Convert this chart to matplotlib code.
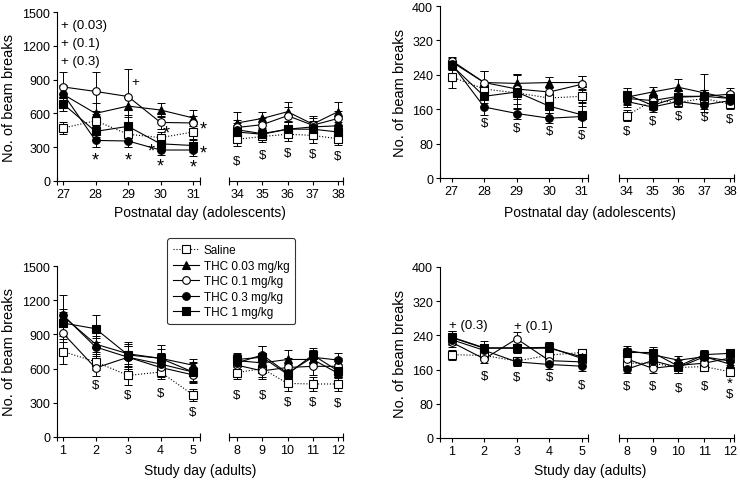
import numpy as np
import matplotlib
matplotlib.use("Agg")
import matplotlib.pyplot as plt

plt.rcParams['font.family'] = ['Liberation Sans', 'DejaVu Sans']

# x values for the two segments of each broken axis
adol_days_a = [27, 28, 29, 30, 31]
adol_days_b = [34, 35, 36, 37, 38]
adult_days_a = [1, 2, 3, 4, 5]
adult_days_b = [8, 9, 10, 11, 12]

groups = ['Saline', 'THC 0.03 mg/kg', 'THC 0.1 mg/kg', 'THC 0.3 mg/kg', 'THC 1 mg/kg']

# rows follow `groups`, columns are the 10 days (5 + 5)
adol_left_mean = [
    [470, 535, 415, 385, 435, 370, 395, 415, 405, 375],
    [770, 600, 665, 630, 560, 515, 555, 615, 505, 615],
    [835, 795, 750, 520, 515, 475, 500, 580, 495, 555],
    [775, 360, 355, 275, 275, 455, 420, 460, 480, 490],
    [685, 440, 485, 330, 315, 435, 415, 460, 460, 435],
]
adol_left_err = [
    [55, 60, 70, 50, 70, 60, 45, 60, 70, 55],
    [70, 90, 80, 60, 70, 100, 60, 90, 70, 90],
    [130, 170, 240, 60, 60, 70, 60, 80, 60, 70],
    [80, 60, 50, 40, 50, 60, 50, 60, 50, 60],
    [60, 50, 80, 60, 60, 60, 50, 70, 60, 60],
]
adol_right_mean = [
    [235, 207, 198, 186, 190, 145, 180, 176, 185, 172],
    [270, 222, 220, 222, 222, 188, 200, 211, 198, 185],
    [273, 222, 207, 200, 218, 185, 180, 190, 190, 195],
    [265, 165, 150, 139, 143, 178, 165, 178, 170, 180],
    [262, 190, 200, 167, 147, 194, 169, 188, 190, 185],
]
adol_right_err = [
    [25, 15, 15, 12, 14, 12, 12, 12, 15, 12],
    [8, 28, 23, 12, 15, 15, 12, 20, 45, 12],
    [8, 28, 35, 12, 20, 15, 12, 15, 15, 15],
    [10, 18, 12, 12, 25, 12, 12, 10, 10, 12],
    [10, 15, 40, 15, 28, 15, 12, 15, 15, 15],
]
adult_left_mean = [
    [750, 660, 540, 570, 370, 565, 600, 470, 465, 465],
    [1060, 815, 730, 690, 630, 670, 650, 680, 680, 560],
    [910, 605, 700, 610, 545, 630, 580, 610, 620, 620],
    [1070, 790, 700, 640, 570, 650, 720, 560, 700, 675],
    [1000, 950, 720, 690, 570, 680, 700, 550, 720, 580],
]
adult_left_err = [
    [110, 70, 80, 60, 50, 60, 70, 70, 60, 60],
    [60, 70, 90, 80, 50, 60, 70, 80, 70, 60],
    [80, 70, 100, 80, 70, 60, 70, 80, 80, 70],
    [180, 80, 100, 100, 90, 60, 80, 80, 60, 60],
    [100, 120, 110, 120, 80, 60, 100, 80, 60, 60],
]
adult_right_mean = [
    [195, 193, 180, 194, 200, 175, 175, 165, 167, 155],
    [235, 210, 210, 210, 190, 205, 195, 182, 190, 173],
    [224, 185, 232, 181, 178, 185, 163, 170, 175, 187],
    [230, 205, 178, 172, 168, 161, 181, 165, 190, 180],
    [236, 211, 211, 212, 186, 200, 200, 168, 195, 198],
]
adult_right_err = [
    [12, 10, 10, 10, 8, 10, 10, 12, 10, 10],
    [15, 10, 10, 10, 10, 10, 10, 10, 10, 10],
    [12, 10, 15, 10, 10, 10, 10, 12, 10, 10],
    [12, 10, 10, 10, 12, 8, 10, 12, 10, 10],
    [15, 15, 10, 12, 10, 10, 12, 10, 10, 10],
]

markers = ['s', '^', 'o', 'o', 's']
faces = ['white', 'black', 'white', 'black', 'black']
styles = [':', '-', '-', '-', '-']

fig = plt.figure(figsize=(7.4, 4.85), dpi=100)
W, H = 740.0, 485.0


def make_axes(x0, x1, x2, x3, y_top, y_bot, xl_a, xl_b, ymax, yticks):
    ax_a = fig.add_axes([x0 / W, 1 - y_bot / H, (x1 - x0) / W, (y_bot - y_top) / H])
    ax_b = fig.add_axes([x2 / W, 1 - y_bot / H, (x3 - x2) / W, (y_bot - y_top) / H])
    for ax, xl in ((ax_a, xl_a), (ax_b, xl_b)):
        ax.set_xlim(*xl)
        ax.set_ylim(0, ymax)
        ax.spines['top'].set_visible(False)
        ax.spines['right'].set_visible(False)
        ax.tick_params(direction='out', length=3, width=0.8, labelsize=9, pad=2)
        ax.set_xticks(range(int(np.ceil(xl[0])), int(xl[1]) + 1))
        ax.set_xticks([xl[0], xl[1]], minor=True)
        ax.tick_params(axis='x', which='minor', direction='inout', length=6, width=0.8)
        ax.patch.set_alpha(0)
    ax_a.set_yticks(yticks)
    ax_a.set_ylabel('No. of beam breaks', fontsize=10.5, labelpad=4)
    ax_b.spines['left'].set_visible(False)
    ax_b.set_yticks([])
    return ax_a, ax_b


def draw(ax_a, ax_b, days_a, days_b, mean, err):
    for i in range(len(groups)):
        m = np.array(mean[i], float)
        e = np.array(err[i], float)
        for ax, d, sl in ((ax_a, days_a, slice(0, 5)), (ax_b, days_b, slice(5, 10))):
            ax.errorbar(d, m[sl], yerr=e[sl], fmt='none', ecolor='black',
                        elinewidth=0.7, capsize=3, capthick=0.7, zorder=2)
            ax.plot(d, m[sl], linestyle=styles[i], color='black', lw=0.8,
                    marker=markers[i], markersize=5.5 if markers[i] != '^' else 6,
                    markerfacecolor=faces[i], markeredgecolor='black',
                    markeredgewidth=0.8, zorder=3 + i, label=groups[i])


tl_a, tl_b = make_axes(57, 200, 229, 343, 13, 182, (26.815, 31.215), (33.68, 38.2),
                       1500, [0, 300, 600, 900, 1200, 1500])
tr_a, tr_b = make_axes(440, 588, 619, 734, 7, 179, (26.64, 31.19), (33.70, 38.155),
                       400, [0, 80, 160, 240, 320, 400])
bl_a, bl_b = make_axes(57, 200, 229, 343, 267, 438, (0.815, 5.215), (7.68, 12.2),
                       1500, [0, 300, 600, 900, 1200, 1500])
br_a, br_b = make_axes(440, 588, 619, 734, 268, 439, (0.64, 5.19), (7.70, 12.155),
                       400, [0, 80, 160, 240, 320, 400])

draw(tl_a, tl_b, adol_days_a, adol_days_b, adol_left_mean, adol_left_err)
draw(tr_a, tr_b, adol_days_a, adol_days_b, adol_right_mean, adol_right_err)
draw(bl_a, bl_b, adult_days_a, adult_days_b, adult_left_mean, adult_left_err)
draw(br_a, br_b, adult_days_a, adult_days_b, adult_right_mean, adult_right_err)

fig.text(200 / W, 1 - 213 / H, 'Postnatal day (adolescents)', ha='center', va='center', fontsize=10)
fig.text(590 / W, 1 - 213 / H, 'Postnatal day (adolescents)', ha='center', va='center', fontsize=10)
fig.text(200 / W, 1 - 471 / H, 'Study day (adults)', ha='center', va='center', fontsize=10)
fig.text(590 / W, 1 - 471 / H, 'Study day (adults)', ha='center', va='center', fontsize=10)

# significance marks
fs = 9.5
for y, s in ((1387, '+ (0.03)'), (1227, '+ (0.1)'), (1066, '+ (0.3)')):
    tl_a.text(26.93, y, s, ha='left', va='center', fontsize=fs)
tl_a.text(29.22, 880, '+', ha='center', va='center', fontsize=fs)
for x, y in ((28, 185), (29, 190), (30.18, 425), (29.72, 270), (30, 135), (31.3, 460), (31.3, 250), (31, 120)):
    tl_a.text(x, y, '*', ha='center', va='center', fontsize=13, clip_on=False)
for x, y in zip(adol_days_b, [178, 232, 252, 238, 223]):
    tl_b.text(x, y, '$', ha='center', va='center', fontsize=fs)
for x, y in zip(adol_days_a[1:], [128, 116, 110, 99]):
    tr_a.text(x, y, '$', ha='center', va='center', fontsize=fs)
for x, y in zip(adol_days_b, [109, 132, 145, 142, 137]):
    tr_b.text(x, y, '$', ha='center', va='center', fontsize=fs)
for x, y in zip(adult_days_a[1:], [458, 368, 385, 222]):
    bl_a.text(x, y, '$', ha='center', va='center', fontsize=fs)
for x, y in zip(adult_days_b, [371, 371, 304, 304, 300]):
    bl_b.text(x, y, '$', ha='center', va='center', fontsize=fs)
br_a.text(0.93, 265, '+ (0.3)', ha='left', va='center', fontsize=fs)
br_a.text(2.93, 263, '+ (0.1)', ha='left', va='center', fontsize=fs)
for x, y in zip(adult_days_a[1:], [146, 143, 143, 125]):
    br_a.text(x, y, '$', ha='center', va='center', fontsize=fs)
for x, y in zip(adult_days_b, [122, 122, 117, 122, 104]):
    br_b.text(x, y, '$', ha='center', va='center', fontsize=fs)
br_b.text(12, 130, '*', ha='center', va='center', fontsize=11, zorder=10)

handles, labels = bl_a.get_legend_handles_labels()
leg = fig.legend(handles[:5], labels[:5], loc='upper left', bbox_to_anchor=(165 / W, 1 - 237 / H),
                 fontsize=8.5, frameon=True, fancybox=True, edgecolor='black',
                 handlelength=2.2, handletextpad=0.4, labelspacing=0.3, borderpad=0.5,
                 borderaxespad=0.2)
leg.get_frame().set_linewidth(0.8)

fig.savefig('out.png', dpi=100)
